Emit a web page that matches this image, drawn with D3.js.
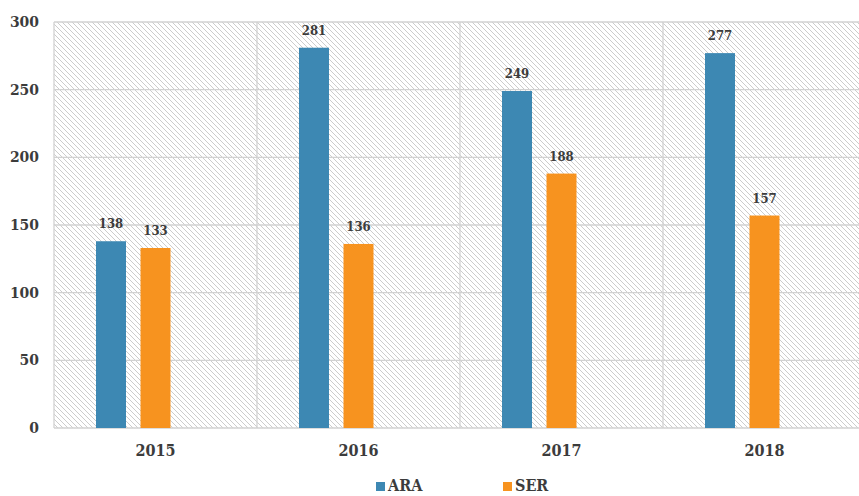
<!DOCTYPE html>
<html><head><meta charset="utf-8">
<script src="https://cdn.jsdelivr.net/npm/d3@7"></script>
<style>body{margin:0;background:#fff;overflow:hidden}svg{display:block}</style>
</head><body><svg id="c" width="859" height="496"></svg>
<script>
const categories = ["2015","2016","2017","2018"];
const seriesNames = ["ARA","SER"];
const ara = [138,281,249,277];
const ser = [133,136,188,157];
const yTicks = [0,50,100,150,200,250,300];
const colors = {ARA:"#3d88b3", SER:"#f7931f"};

const svg = d3.select("#c");
const m = {l:54, r:866, t:22, b:428};
const x = d3.scaleBand().domain(categories).range([m.l, m.r]).paddingInner(0).paddingOuter(0);
const x1 = d3.scaleBand().domain(["ARA","SER","_"]).range([0, x.bandwidth()]).paddingInner(0.326).paddingOuter(0.944);
const y = d3.scaleLinear().domain([0,300]).range([m.b, m.t]);

const defs = svg.append("defs");
const pat = defs.append("pattern").attr("id","hatch").attr("patternUnits","userSpaceOnUse")
  .attr("width",5).attr("height",5);
pat.append("rect").attr("width",5).attr("height",5).attr("fill","#fff");
pat.append("path").attr("d","M-1,-1 L6,6 M-1,4 L1,6 M4,-1 L6,1").attr("stroke","#cccccc").attr("stroke-width",1);

svg.append("rect").attr("x",m.l).attr("y",m.t).attr("width",m.r-m.l).attr("height",m.b-m.t).attr("fill","url(#hatch)");

// grid
svg.append("g").selectAll("line").data(yTicks).join("line")
  .attr("x1",m.l).attr("x2",m.r).attr("y1",d=>y(d)).attr("y2",d=>y(d))
  .attr("stroke","#d2d2d2").attr("stroke-width",1.3);
svg.append("g").selectAll("line").data(categories.slice(1)).join("line")
  .attr("x1",d=>x(d)).attr("x2",d=>x(d)).attr("y1",m.t).attr("y2",m.b)
  .attr("stroke","#d2d2d2").attr("stroke-width",1.3);
svg.append("line").attr("x1",m.l).attr("x2",m.l).attr("y1",m.t).attr("y2",m.b)
  .attr("stroke","#d2d2d2").attr("stroke-width",1.3);

const font = "'DejaVu Serif Condensed', 'DejaVu Serif', serif";
const data = [];
categories.forEach((c,i)=>{ data.push({c,s:"ARA",v:ara[i]}); data.push({c,s:"SER",v:ser[i]}); });

svg.append("g").selectAll("rect").data(data).join("rect")
  .attr("x",d=>x(d.c)+x1(d.s)).attr("width",x1.bandwidth())
  .attr("y",d=>y(d.v)).attr("height",d=>y(0)-y(d.v)).attr("fill",d=>colors[d.s]);

svg.append("g").selectAll("text").data(data).join("text")
  .attr("x",d=>x(d.c)+x1(d.s)+x1.bandwidth()/2).attr("y",d=>y(d.v)-13)
  .attr("text-anchor","middle").attr("font-family",font).attr("font-weight","bold")
  .attr("font-size",13).attr("fill","#3c3c3c").text(d=>d.v);

// y axis labels
svg.append("g").selectAll("text").data(yTicks).join("text")
  .attr("x",39).attr("y",d=>y(d)+5).attr("text-anchor","end")
  .attr("font-family",font).attr("font-weight","bold").attr("font-size",15.5).attr("fill","#3c3c3c").text(d=>d);

// x labels
svg.append("g").selectAll("text").data(categories).join("text")
  .attr("x",d=>x(d)+x.bandwidth()/2).attr("y",456).attr("text-anchor","middle")
  .attr("font-family",font).attr("font-weight","bold").attr("font-size",16).attr("fill","#3c3c3c").text(d=>d);

// legend
const lg = svg.append("g").selectAll("g").data(seriesNames).join("g")
  .attr("transform",(d,i)=>`translate(${376+i*127},0)`);
lg.append("rect").attr("x",0).attr("y",482).attr("width",9).attr("height",9).attr("fill",d=>colors[d]);
lg.append("text").attr("x",12).attr("y",491).attr("font-family",font).attr("font-weight","bold")
  .attr("font-size",16).attr("fill","#3c3c3c").text(d=>d);
</script></body></html>
